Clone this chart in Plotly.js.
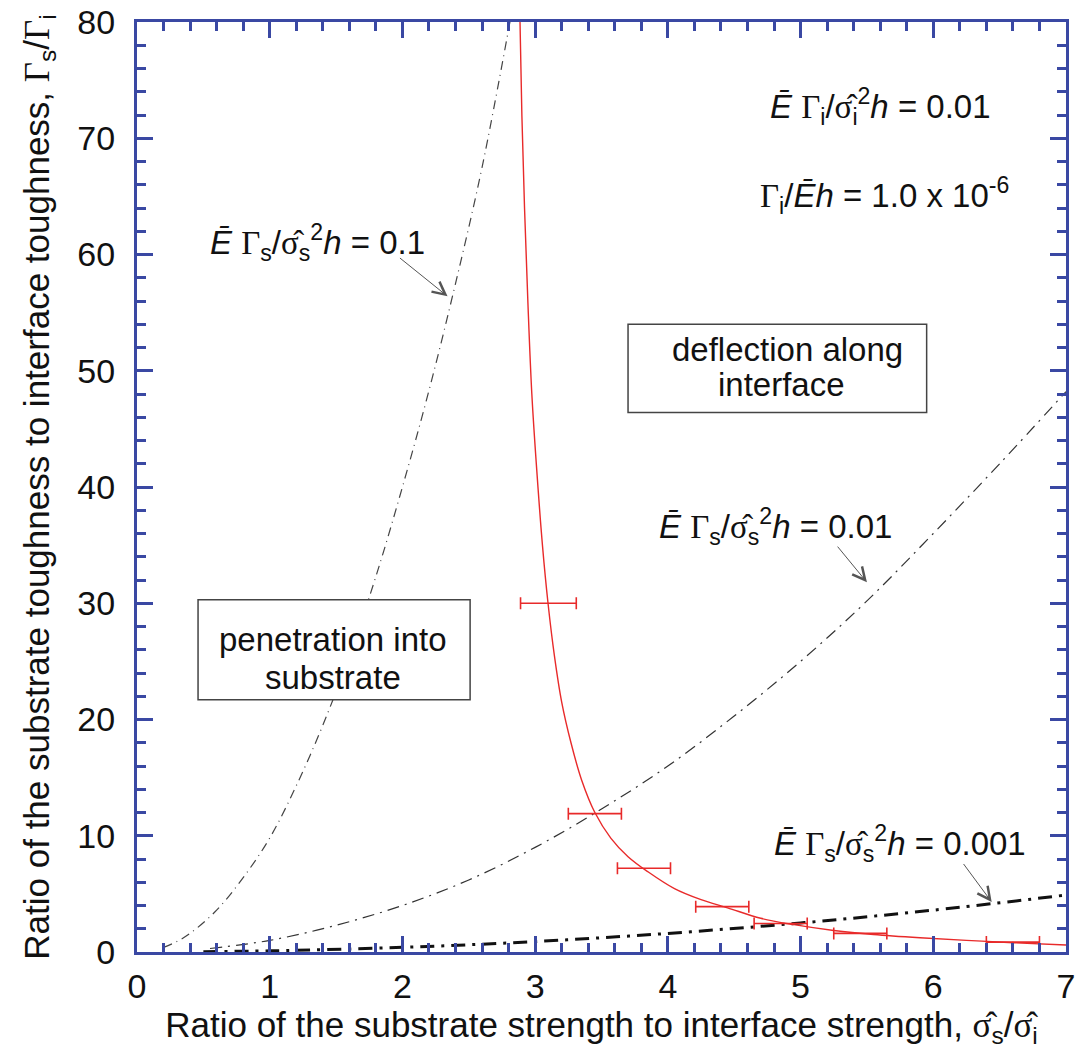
<!DOCTYPE html>
<html>
<head>
<meta charset="utf-8">
<script src="https://cdn.plot.ly/plotly-3.0.1.min.js"></script>
<style>html,body{margin:0;padding:0;background:#fff;}</style>
</head>
<body>
<div id="chart" style="width:1089px;height:1063px;"></div>
<script>
// Curve Ē Γs/σ̂s²h = 0.1
const c1X = [0.2, 0.3, 0.4, 0.6, 0.8, 1.0, 1.2, 1.4, 1.6, 1.8, 2.0, 2.2, 2.4, 2.6, 2.81];
const c1Y = [0.4, 0.9, 1.6, 3.6, 6.4, 9.8, 14.3, 19.5, 25.5, 32.3, 40.0, 48.3, 57.5, 67.5, 80.0];
// Curve Ē Γs/σ̂s²h = 0.01
const c2X = [0.55, 1.0, 1.5, 2.0, 2.5, 3.0, 3.5, 4.0, 4.5, 5.0, 5.5, 6.0, 6.5, 7.0];
const c2Y = [0.3, 1.0, 2.3, 4.0, 6.2, 9.0, 12.3, 16.0, 20.3, 25.0, 30.2, 36.0, 42.0, 48.2];
// Curve Ē Γs/σ̂s²h = 0.001
const c3X = [0.5, 1.0, 2.0, 3.0, 4.0, 5.0, 6.0, 7.0];
const c3Y = [0.03, 0.1, 0.4, 0.9, 1.6, 2.5, 3.6, 4.9];
// Red boundary curve
const redX = [2.886, 2.90, 2.92, 2.945, 2.975, 3.015, 3.055, 3.097, 3.145, 3.20, 3.27, 3.35, 3.45, 3.57, 3.70, 3.85, 4.05, 4.25, 4.45, 4.70, 4.95, 5.25, 5.55, 5.90, 6.25, 6.60, 7.00];
const redY = [80, 72, 64, 56, 48, 41, 35, 30, 25.5, 21.5, 18, 14.8, 12.0, 9.8, 8.2, 6.9, 5.45, 4.5, 3.8, 2.9, 2.35, 1.85, 1.5, 1.22, 1.0, 0.8, 0.6];
// Error bars (horizontal)
const errX = [3.10, 3.45, 3.82, 4.41, 4.85, 5.45, 6.6];
const errY = [30, 11.9, 7.2, 3.9, 2.45, 1.6, 0.85];
const errW = [0.21, 0.2, 0.2, 0.2, 0.2, 0.2, 0.2];
// Ticks
const xTicks = [0, 1, 2, 3, 4, 5, 6, 7];
const yTicks = [0, 10, 20, 30, 40, 50, 60, 70, 80];

const BLUE = '#3a48a3';
const FONT = 'Liberation Sans, Arial, Helvetica, sans-serif';
const SERIF = 'Liberation Serif, Times New Roman, serif';
const G = s => `<span style="font-family:${SERIF}">${s}</span>`;
const SIG = G('σ̂');
const Ebar = '<i>Ē</i>';

const traces = [
  {x: c1X, y: c1Y, mode: 'lines', line: {color: '#444', width: 1.2, dash: '9px,5px,1px,5px', shape: 'spline'}, hoverinfo: 'skip'},
  {x: c2X, y: c2Y, mode: 'lines', line: {color: '#333', width: 1.2, dash: '12px,6px,2px,6px', shape: 'spline'}, hoverinfo: 'skip'},
  {x: c3X, y: c3Y, mode: 'lines', line: {color: '#111', width: 3, dash: '14px,7px,3px,7px', shape: 'spline'}, hoverinfo: 'skip'},
  {x: redX, y: redY, mode: 'lines', line: {color: '#e82a2a', width: 1.4, shape: 'spline', smoothing: 1}, hoverinfo: 'skip'},
  {x: errX, y: errY, mode: 'markers', marker: {size: 1, color: '#e82a2a'},
   error_x: {type: 'data', array: errW, color: '#e82a2a', thickness: 1.6, width: 6}, hoverinfo: 'skip'}
];

const txtFont = {family: FONT, size: 33, color: '#111'};
const lbl = (x, y, text) => ({x, y, text, showarrow: false, font: txtFont});
const arrow = (x, y, ax, ay) => ({x, y, ax, ay, axref: 'x', ayref: 'y', text: '', showarrow: true,
  arrowhead: 5, arrowsize: 2.5, arrowwidth: 1, arrowcolor: '#555'});

const annotations = [
  lbl(1.36, 61, `${Ebar} ${G('Γ')}<sub>s</sub>/${SIG}<sub>s</sub><sup>2</sup><i>h</i> = 0.1`),
  lbl(4.81, 36.6, `${Ebar} ${G('Γ')}<sub>s</sub>/${SIG}<sub>s</sub><sup>2</sup><i>h</i> = 0.01`),
  lbl(5.75, 9.3, `${Ebar} ${G('Γ')}<sub>s</sub>/${SIG}<sub>s</sub><sup>2</sup><i>h</i> = 0.001`),
  lbl(5.60, 72.7, `${Ebar} ${G('Γ')}<sub>i</sub>/${SIG}<sub>i</sub><sup>2</sup><i>h</i> = 0.01`),
  lbl(5.63, 65.1, `${G('Γ')}<sub>i</sub>/${Ebar}<i>h</i> = 1.0 x 10<sup>-6</sup>`),
  lbl(4.90, 51.8, 'deflection along'),
  lbl(4.86, 48.8, 'interface'),
  lbl(1.48, 26.9, 'penetration into'),
  lbl(1.48, 23.6, 'substrate'),
  arrow(2.34, 56.4, 1.97, 59.8),
  arrow(5.50, 31.8, 5.27, 35.0),
  arrow(6.44, 4.3, 6.22, 7.7)
];

// label boxes
const shapes = [
  {type: 'rect', xref: 'x', yref: 'y', x0: 3.70, x1: 5.95, y0: 46.4, y1: 54.0, line: {color: '#444', width: 1.5}, fillcolor: 'rgba(255,255,255,0)', layer: 'above'},
  {type: 'rect', xref: 'x', yref: 'y', x0: 0.46, x1: 2.51, y0: 21.7, y1: 30.3, line: {color: '#444', width: 1.5}, fillcolor: '#fff', layer: 'above'}
];

const axisCommon = {
  showgrid: false, zeroline: false, showline: true, linecolor: BLUE, linewidth: 3,
  mirror: 'ticks', ticks: 'inside', ticklen: 16, tickwidth: 3, tickcolor: BLUE,
  tickfont: {family: FONT, size: 34, color: '#111'}
};

const layout = {
  width: 1089, height: 1063,
  margin: {l: 137, r: 23, t: 22, b: 111},
  paper_bgcolor: '#fff', plot_bgcolor: '#fff',
  showlegend: false,
  xaxis: Object.assign({}, axisCommon, {
    range: [0, 7], tickvals: xTicks, ticktext: xTicks.map(String),
    minor: {dtick: 0.2, tick0: 0, ticks: 'inside', ticklen: 9, tickwidth: 3, tickcolor: BLUE},
    ticklabelstandoff: 2,
    title: {text: `Ratio of the substrate strength to interface strength, ${SIG}<sub>s</sub>/${SIG}<sub>i</sub>`,
            font: {family: FONT, size: 35, color: '#111'}, standoff: 6}
  }),
  yaxis: Object.assign({}, axisCommon, {
    range: [0, 80], tickvals: yTicks, ticktext: yTicks.map(String),
    minor: {dtick: 2, tick0: 0, ticks: 'inside', ticklen: 9, tickwidth: 3, tickcolor: BLUE},
    ticklabelstandoff: 12,
    title: {text: `Ratio of the substrate toughness to interface toughness, ${G('Γ')}<sub>s</sub>/${G('Γ')}<sub>i</sub>`,
            font: {family: FONT, size: 35, color: '#111'}, standoff: 18}
  }),
  shapes: shapes,
  annotations: annotations
};

Plotly.newPlot('chart', traces, layout, {displayModeBar: false, staticPlot: true});
</script>
</body>
</html>
